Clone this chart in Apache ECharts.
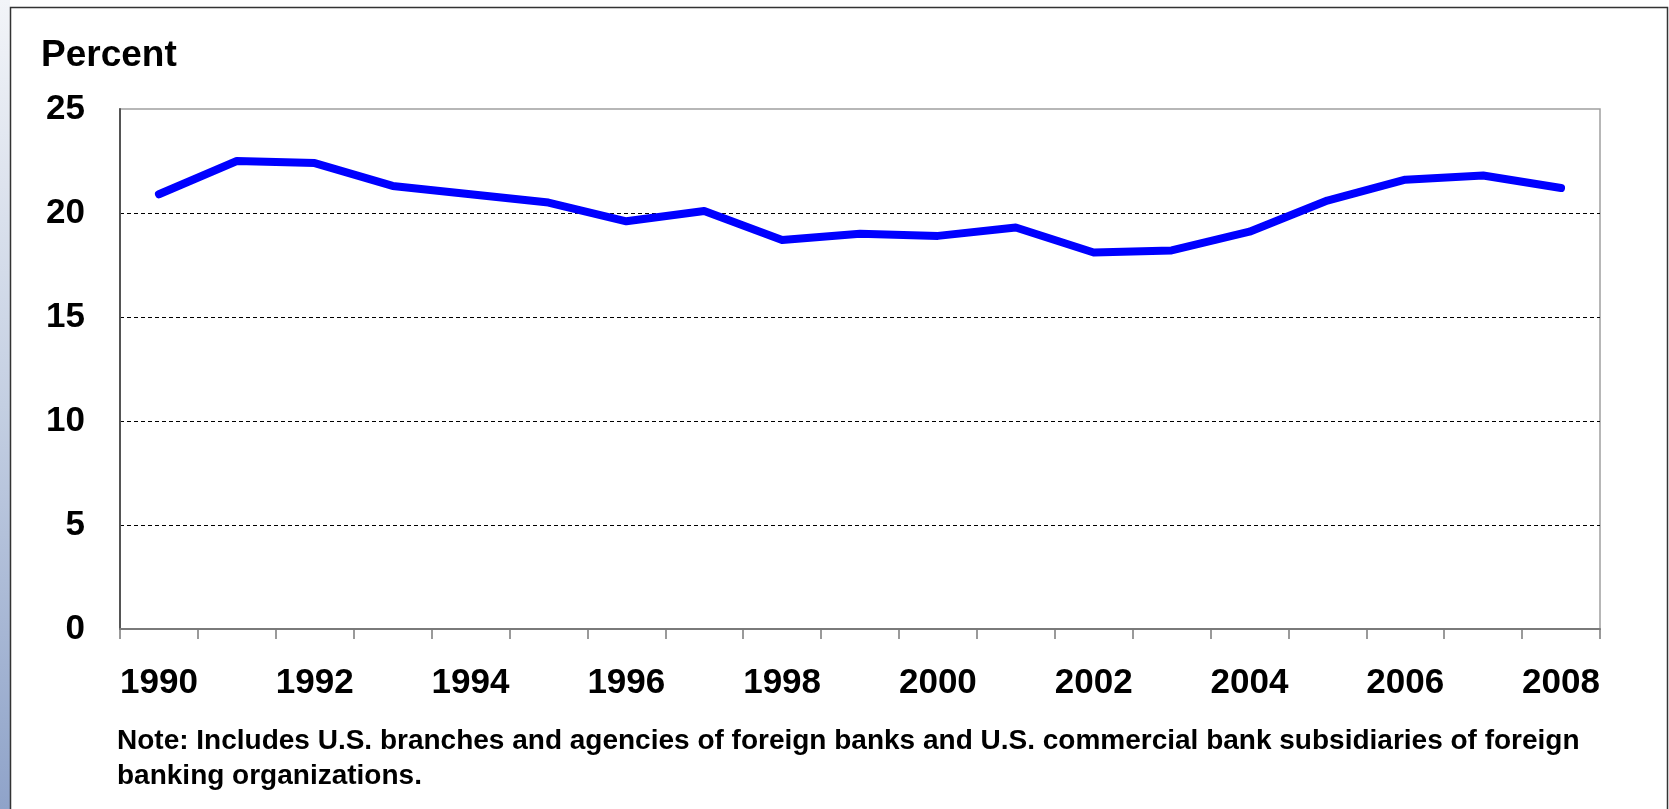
<!DOCTYPE html>
<html>
<head>
<meta charset="utf-8">
<script src="https://cdn.jsdelivr.net/npm/echarts@6/dist/echarts.min.js"></script>
<style>
html,body{margin:0;padding:0;background:#fff;}
#chart{width:1669px;height:809px;}
</style>
</head>
<body>
<div id="chart"></div>
<script>
const years = ['1990','1991','1992','1993','1994','1995','1996','1997','1998','1999','2000','2001','2002','2003','2004','2005','2006','2007','2008'];
const shareValues = [20.9, 22.5, 22.4, 21.3, 20.9, 20.5, 19.6, 20.1, 18.7, 19.0, 18.9, 19.3, 18.1, 18.2, 19.1, 20.6, 21.6, 21.8, 21.2];
const yTicks = {min: 0, max: 25, interval: 5};
const unitLabel = 'Percent';
const noteLines = [
  'Note: Includes U.S. branches and agencies of foreign banks and U.S. commercial bank subsidiaries of foreign',
  'banking organizations.'
];

const FONT = '"Liberation Sans", Arial, Helvetica, sans-serif';
const chart = echarts.init(document.getElementById('chart'), null, {renderer: 'canvas'});

chart.setOption({
  backgroundColor: '#ffffff',
  animation: false,
  grid: {
    left: 120, right: 69, top: 109, bottom: 180,
    show: true, borderColor: '#a0a0a0', borderWidth: 1.5, backgroundColor: 'transparent'
  },
  xAxis: {
    type: 'category',
    data: years,
    boundaryGap: true,
    axisLine: {show: true, lineStyle: {color: '#7a7a7a', width: 2}},
    axisTick: {show: true, interval: 0, length: 10, lineStyle: {color: '#7a7a7a', width: 1.5}},
    axisLabel: {interval: 1, margin: 37, color: '#000', fontSize: 35, fontWeight: 'bold', fontFamily: FONT},
    splitLine: {show: false}
  },
  yAxis: {
    type: 'value',
    min: yTicks.min, max: yTicks.max, interval: yTicks.interval,
    axisLine: {show: true, lineStyle: {color: '#555', width: 2}},
    axisTick: {show: false},
    axisLabel: {margin: 35, color: '#000', fontSize: 35, fontWeight: 'bold', fontFamily: FONT},
    splitLine: {show: true, lineStyle: {color: ['rgba(0,0,0,0)', '#000', '#000', '#000', '#000', 'rgba(0,0,0,0)'], width: 1, type: [4, 3]}}
  },
  series: [{
    type: 'line',
    data: shareValues,
    symbol: 'none',
    smooth: false,
    lineStyle: {color: '#0000ff', width: 8, cap: 'round', join: 'round'},
    z: 5
  }],
  graphic: [
    {
      type: 'rect', left: 0, top: 0, z: -10, silent: true,
      shape: {x: 0, y: 0, width: 10, height: 809},
      style: {fill: new echarts.graphic.LinearGradient(0, 0, 0, 1, [
        {offset: 0, color: '#f2f4f8'}, {offset: 0.5, color: '#c4cfe2'}, {offset: 1, color: '#8fa3c9'}
      ])}
    },
    {
      type: 'rect', silent: true, z: 10,
      shape: {x: 10.5, y: 7.5, width: 1657, height: 830},
      style: {fill: 'none', stroke: '#333', lineWidth: 1.5}
    },
    {
      type: 'text', left: 41, top: 37, silent: true,
      style: {text: unitLabel, fill: '#000', font: 'bold 37px ' + FONT}
    },
    {
      type: 'text', left: 117, top: 727, silent: true,
      style: {text: noteLines[0], fill: '#000', font: 'bold 28px ' + FONT}
    },
    {
      type: 'text', left: 117, top: 762, silent: true,
      style: {text: noteLines[1], fill: '#000', font: 'bold 28px ' + FONT}
    }
  ]
});
</script>
</body>
</html>
